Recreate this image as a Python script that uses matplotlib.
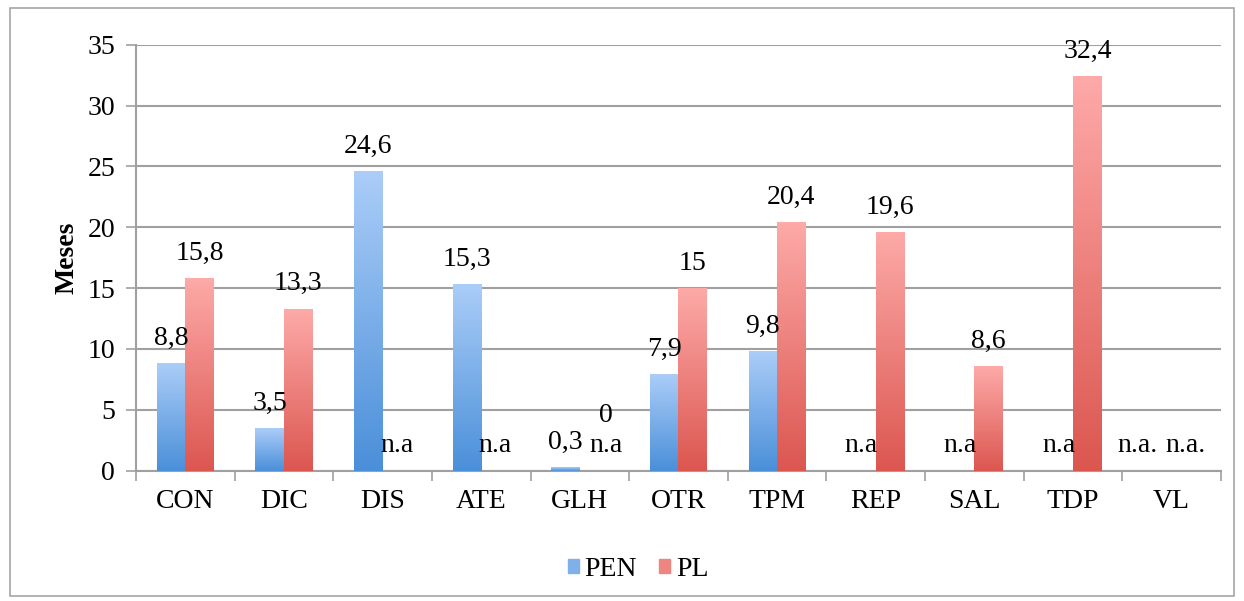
import numpy as np
import matplotlib.pyplot as plt
from matplotlib.colors import LinearSegmentedColormap
from matplotlib.patches import Rectangle

plt.rcParams['font.family'] = ['Liberation Serif', 'DejaVu Serif']

# Datos (meses)
categorias = ['CON', 'DIC', 'DIS', 'ATE', 'GLH', 'OTR', 'TPM', 'REP', 'SAL', 'TDP', 'VL']
pen = [8.8, 3.5, 24.6, 15.3, 0.3, 7.9, 9.8, np.nan, np.nan, np.nan, np.nan]
pl = [15.8, 13.3, np.nan, np.nan, 0.0, 15.0, 20.4, 19.6, 8.6, 32.4, np.nan]
etiquetas_pen = ['8,8', '3,5', '24,6', '15,3', '0,3', '7,9', '9,8', 'n.a', 'n.a', 'n.a', 'n.a.']
etiquetas_pl = ['15,8', '13,3', 'n.a', 'n.a', '0\nn.a', '15', '20,4', '19,6', '8,6', '32,4', 'n.a.']
# desplazamiento horizontal de algunas etiquetas (px) para que no se pisen
ajuste_pen = [0, 0, 0, 0, 0, 0, 0, 0, 0, 0, -20]
ajuste_pl = [0, 0, 0, 0, 12, 0, 0, 0, 0, 0, 0]

FS = 20

fig = plt.figure(figsize=(12.44, 6.01), dpi=100)
ax = fig.add_axes([0.1093, 0.2168, 0.8722, 0.7088])

# marco exterior
fig.patches.append(Rectangle((0.008, 0.008), 0.984, 0.978, transform=fig.transFigure,
                             fill=False, edgecolor='#a6a6a6', linewidth=1.2))

azul = LinearSegmentedColormap.from_list('azul', ['#4a8fd9', '#abcdf8'])
rojo = LinearSegmentedColormap.from_list('rojo', ['#dc5650', '#fdaaa8'])
grad = np.linspace(0, 1, 256).reshape(-1, 1)

w = 0.29
x = np.arange(len(categorias)) + 0.5


def barras(valores, izquierda, cmap, etiqueta):
    bars = ax.bar(izquierda, np.nan_to_num(valores), width=w, align='edge',
                  color='none', edgecolor='none', label=etiqueta, zorder=3)
    for b, v in zip(bars, valores):
        if np.isnan(v) or v <= 0:
            continue
        x0, x1 = b.get_x(), b.get_x() + b.get_width()
        ax.imshow(grad, cmap=cmap, origin='lower', aspect='auto',
                  extent=(x0, x1, 0, v), zorder=3, interpolation='bicubic')
    return bars


barras(pen, x - w, azul, 'PEN')
barras(pl, x, rojo, 'PL')

for xi, v, t, dx in zip(x - w / 2, pen, etiquetas_pen, ajuste_pen):
    ax.annotate(t, (xi, np.nan_to_num(v)), xytext=(dx * 0.72, 9), textcoords='offset points',
                ha='center', va='bottom', fontsize=FS, zorder=5)
for xi, v, t, dx in zip(x + w / 2, pl, etiquetas_pl, ajuste_pl):
    ax.annotate(t, (xi, np.nan_to_num(v)), xytext=(dx * 0.72, 9), textcoords='offset points',
                ha='center', va='bottom', fontsize=FS, linespacing=1.3, zorder=5)

ax.set_xlim(0, len(categorias))
ax.set_ylim(0, 35)
ax.set_yticks(np.arange(0, 36, 5))
ax.set_xticks(np.arange(0, len(categorias) + 1))
ax.set_xticklabels([])
ax.set_xticks(x, minor=True)
ax.set_xticklabels(categorias, minor=True)
ax.tick_params(axis='x', which='minor', length=0, pad=13, labelsize=FS)
ax.tick_params(axis='x', which='major', direction='out', length=7, width=1.2, color='#a0a0a0')
ax.tick_params(axis='y', direction='out', length=7, width=1.2, color='#a0a0a0',
               labelsize=FS, pad=8)

ax.yaxis.grid(True, color='#a0a0a0', linewidth=1.5, zorder=0)
ax.set_axisbelow(True)
for lado in ['top', 'right']:
    ax.spines[lado].set_visible(False)
for lado in ['left', 'bottom']:
    ax.spines[lado].set_color('#a0a0a0')
    ax.spines[lado].set_linewidth(1.5)

ax.set_ylabel('Meses', fontsize=FS, fontweight='bold', labelpad=6)

handles = [Rectangle((0, 0), 1, 1, color='#7fb0ea'), Rectangle((0, 0), 1, 1, color='#ee8580')]
fig.legend(handles, ['PEN', 'PL'], loc='center', bbox_to_anchor=(0.513, 0.052), ncol=2,
           frameon=False, fontsize=FS, handlelength=0.4, handleheight=0.4,
           handletextpad=0.2, columnspacing=0.8)

fig.savefig('out.png', dpi=100)
